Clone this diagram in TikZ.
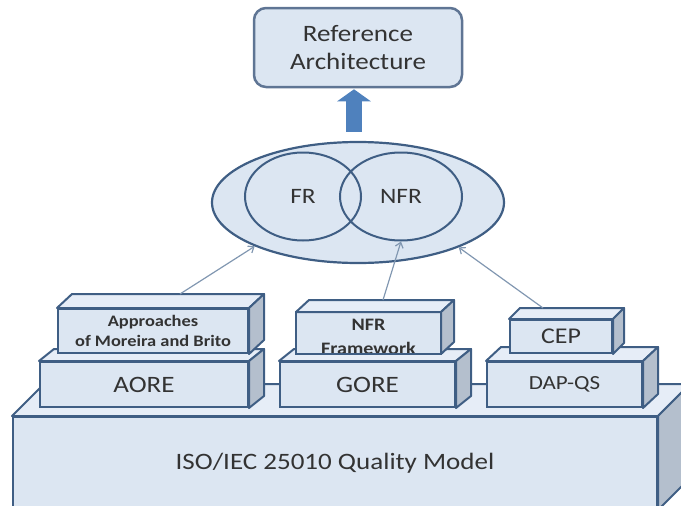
\documentclass[tikz,border=0pt]{standalone}
\usepackage{fontspec}
\usepackage{graphicx}
\setmainfont{Carlito}
\usetikzlibrary{calc,arrows.meta,shapes.geometric}

\definecolor{facefill}{HTML}{DCE6F2}
\definecolor{topfill}{HTML}{E6EDF7}
\definecolor{sidefill}{HTML}{B4BFCD}
\definecolor{edge}{HTML}{3F5E84}
\definecolor{refedge}{HTML}{5F7594}
\definecolor{ink}{HTML}{333333}
\definecolor{link}{HTML}{8197B1}
\definecolor{blockblue}{HTML}{4F81BD}

% slightly widened lettering
\newcommand\wide[1]{\scalebox{1.15}[1]{#1}}

% top and side faces of a block whose front face is node #1,
% receding #2 to the right and #3 upwards
\newcommand\slab[3]{%
  \filldraw[topface] (#1.north west) -- ++(#2,-#3)
    -- ($(#1.north east)+(#2,-#3)$) -- (#1.north east) -- cycle;
  \filldraw[sideface] (#1.north east) -- ++(#2,-#3)
    -- ($(#1.south east)+(#2,-#3)$) -- (#1.south east) -- cycle;
}

\tikzset{
  front/.style={draw=edge, fill=facefill, line width=2pt, inner sep=0pt,
    text=ink, align=center},
  topface/.style={draw=edge, fill=topfill, line width=2pt, line join=round},
  sideface/.style={draw=edge, fill=sidefill, line width=2pt, line join=round},
  venn/.style={ellipse, draw=edge, line width=2pt, inner sep=0pt, text=ink,
    font=\fontsize{22}{26}\selectfont},
  feed/.style={draw=link, line width=1.2pt, -{Straight Barb[length=5pt,width=8pt]}},
  bigfont/.style={font=\fontsize{23.5}{28}\selectfont},
}

\begin{document}
\begin{tikzpicture}[x=1pt, y=-1pt]
\useasboundingbox (0,0) rectangle (681,506);

% base layer
\node[front, bigfont, minimum width=644pt, minimum height=92pt] (iso) at (335,463)
  {\wide{ISO/IEC 25010 Quality Model}};
\slab{iso}{32}{32}

% approaches layer
\node[front, bigfont, minimum width=208pt, minimum height=45pt] (aore) at (144,384.5)
  {\wide{AORE}};
\slab{aore}{15}{12}
\node[front, minimum width=190pt, minimum height=44pt,
  font=\bfseries\fontsize{16}{20}\selectfont] (appr) at (153,331)
  {\wide{Approaches}\\\wide{of Moreira and Brito}};
\slab{appr}{15}{14}

\node[front, bigfont, minimum width=175pt, minimum height=45pt] (gore) at (367.5,384.5)
  {\wide{GORE}};
\slab{gore}{15}{12}
% front face filled first, its label cut at the lower edge, then the outline
\node[front, draw=none, minimum width=143pt, minimum height=40pt] (nfrf) at (368.5,333) {};
\slab{nfrf}{13}{12}
\begin{scope}
  \clip (nfrf.south west) rectangle (nfrf.north east);
  \node[text=ink, align=center, inner sep=0pt,
    font=\bfseries\fontsize{17.5}{24}\selectfont] (nfrft) at (368.5,337)
    {\wide{NFR}\\\wide{Framework}};
\end{scope}
\draw[edge, line width=2pt] (nfrf.south west) rectangle (nfrf.north east);

\node[front, font=\fontsize{20}{24}\selectfont, minimum width=155pt, minimum height=45pt]
  (dap) at (564.5,384.5) {\wide{DAP-QS}};
\slab{dap}{15}{14}
\node[front, font=\fontsize{22.5}{26}\selectfont, minimum width=102pt, minimum height=33pt]
  (cep) at (561,336.5) {\wide{CEP}};
\slab{cep}{11}{11}

% requirements
\node[ellipse, draw=edge, fill=facefill, line width=2.2pt, inner sep=0pt,
  minimum width=292pt, minimum height=121pt] (req) at (358,202.5) {};
\node[venn, minimum width=116pt, minimum height=88pt] (fr) at (303,196.5) {\wide{FR}};
\node[venn, minimum width=122pt, minimum height=88pt] (nfr) at (401,196.5) {\wide{NFR}};

% target
\node[draw=refedge, fill=facefill, rounded corners=12pt, line width=2.5pt,
  minimum width=208pt, minimum height=79pt, align=center, text=ink, bigfont]
  (ref) at (358,47.5) {\wide{Reference}\\\wide{Architecture}};

\draw[blockblue, line width=16pt, -{Triangle[length=12pt,width=33pt]}]
  ($(req.north)+(-4,-9)$) -- ($(ref.south)+(-4,1)$);

% contributions
\coordinate (aprtop) at ($(appr.north)+(27,-14)$);
\coordinate (nfrtop) at ($(nfrf.north)+(14.5,-12)$);
\coordinate (ceptop) at ($(cep.north)+(-18,-11)$);
\draw[feed] (aprtop) -- (req.203);
\draw[feed] (nfrtop) -- (nfr.south);
\draw[feed] (ceptop) -- (req.336.6);
\end{tikzpicture}
\end{document}
